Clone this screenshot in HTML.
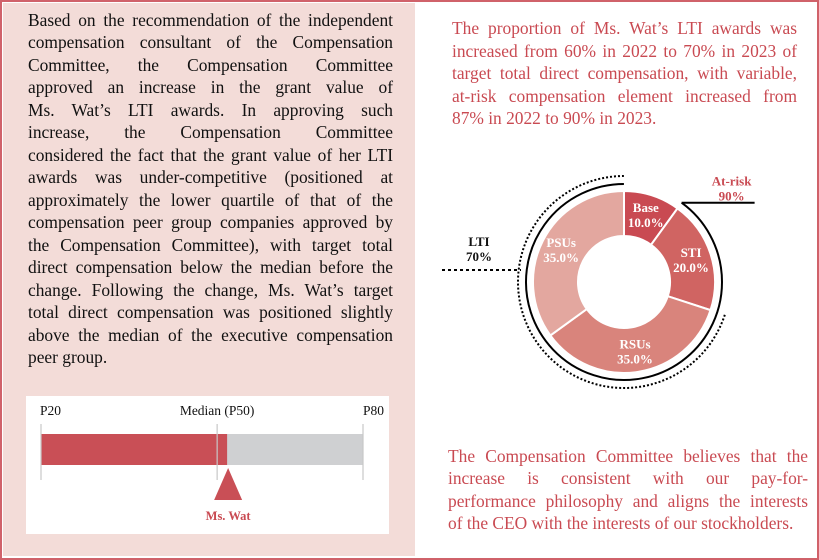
<!DOCTYPE html>
<html><head><meta charset="utf-8">
<style>
body{margin:0;width:819px;height:560px;overflow:hidden;background:#fff;font-family:"Liberation Serif",serif;}
#frame{position:absolute;left:0;top:0;width:815px;height:556px;border:2px solid #d0626a;}
#left{position:absolute;left:3px;top:3px;width:412px;height:553px;background:#f3dcd8;}
.ln{position:absolute;white-space:nowrap;text-align:justify;text-align-last:justify;font-size:17.4px;line-height:20px;}
.ln.last{text-align-last:left;}
.lt .ln{left:28px;width:365px;color:#111;}
.rt .ln{left:452px;width:345px;color:#c94a52;}
.rb .ln{left:448px;width:360px;color:#c94a52;}
#barbox{position:absolute;left:26px;top:396px;width:363px;height:138px;background:#fff;}
svg{position:absolute;left:0;top:0;}
</style></head><body>
<div id="frame"></div>
<div id="left"></div>
<div class="lt">
<div class="ln" style="top:10px">Based on the recommendation of the independent</div>
<div class="ln" style="top:32px">compensation consultant of the Compensation</div>
<div class="ln" style="top:55px">Committee, the Compensation Committee</div>
<div class="ln" style="top:77px">approved an increase in the grant value of</div>
<div class="ln" style="top:100px">Ms. Wat’s LTI awards. In approving such</div>
<div class="ln" style="top:122px">increase, the Compensation Committee</div>
<div class="ln" style="top:145px">considered the fact that the grant value of her LTI</div>
<div class="ln" style="top:167px">awards was under-competitive (positioned at</div>
<div class="ln" style="top:190px">approximately the lower quartile of that of the</div>
<div class="ln" style="top:212px">compensation peer group companies approved by</div>
<div class="ln" style="top:235px">the Compensation Committee), with target total</div>
<div class="ln" style="top:257px">direct compensation below the median before the</div>
<div class="ln" style="top:280px">change. Following the change, Ms. Wat’s target</div>
<div class="ln" style="top:302px">total direct compensation was positioned slightly</div>
<div class="ln" style="top:325px">above the median of the executive compensation</div>
<div class="ln last" style="top:347px">peer group.</div>
</div>
<div class="rt">
<div class="ln" style="top:18px">The proportion of Ms. Wat’s LTI awards was</div>
<div class="ln" style="top:41px">increased from 60% in 2022 to 70% in 2023 of</div>
<div class="ln" style="top:63px">target total direct compensation, with variable,</div>
<div class="ln" style="top:86px">at-risk compensation element increased from</div>
<div class="ln last" style="top:108px">87% in 2022 to 90% in 2023.</div>
</div>
<div class="rb">
<div class="ln" style="top:446px">The Compensation Committee believes that the</div>
<div class="ln" style="top:468px">increase is consistent with our pay-for-</div>
<div class="ln" style="top:491px">performance philosophy and aligns the interests</div>
<div class="ln last" style="top:513px">of the CEO with the interests of our stockholders.</div>
</div>
<div id="barbox"></div>
<svg id="chart" width="819" height="560"></svg>
<script>
const sliceLabels=["Base","STI","RSUs","PSUs"];
const sliceValues=[10,20,35,35];
const sliceColors=["#c94a52","#d06462","#d9847c","#e3a79f"];
const atRiskValue=90;
const ltiValue=70;
const tickLabels=["P20","Median (P50)","P80"];
const tickValues=[0,54.7,100];
const watValue=57.8;

const NS="http://www.w3.org/2000/svg";
const svg=document.getElementById('chart');
function mk(t,a,p){const e=document.createElementNS(NS,t);for(const k in a)e.setAttribute(k,a[k]);(p||svg).appendChild(e);return e;}
const cx=624,cy=282,ro=91,ri=46;
const total=sliceValues.reduce((a,b)=>a+b,0);
function ang(v){return v/total*2*Math.PI;}
function pt(a,r){return [cx+r*Math.sin(a),cy-r*Math.cos(a)];}
function arcPath(a0,a1,r){const p0=pt(a0,r),p1=pt(a1,r);const lg=(a1-a0)>Math.PI?1:0;return `M${p0[0]},${p0[1]} A${r},${r} 0 ${lg} 1 ${p1[0]},${p1[1]}`;}
let acc=0;
sliceValues.forEach((v,i)=>{
  const a0=ang(acc),a1=ang(acc+v);acc+=v;
  const o0=pt(a0,ro),o1=pt(a1,ro),i1=pt(a1,ri),i0=pt(a0,ri);const lg=(a1-a0)>Math.PI?1:0;
  const s=mk('path',{d:`M${o0[0]},${o0[1]} A${ro},${ro} 0 ${lg} 1 ${o1[0]},${o1[1]} L${i1[0]},${i1[1]} A${ri},${ri} 0 ${lg} 0 ${i0[0]},${i0[1]} Z`,fill:sliceColors[i],stroke:'#fff','stroke-width':2});
  
  
  const m=(a0+a1)/2,lp=pt(m,(ro+ri)/2+2);
  const t=mk('text',{x:lp[0],y:lp[1]-3,'text-anchor':'middle',fill:'#fff','font-size':13,'font-weight':'bold','font-family':'Liberation Serif, serif'});
  
  
  mk('tspan',{x:lp[0],dy:0},t).textContent=sliceLabels[i];
  mk('tspan',{x:lp[0],dy:15},t).textContent=v.toFixed(1)+'%';
});
const arA0=ang(total-atRiskValue/100*total);
const ar=mk('path',{d:arcPath(arA0,2*Math.PI-0.001,98),fill:'none',stroke:'#000','stroke-width':2});


const ap=pt(arA0,98);
const al=mk('line',{x1:ap[0],y1:ap[1],x2:ap[0]+73,y2:ap[1],stroke:'#000','stroke-width':2});


const at=mk('text',{x:ap[0]+50,y:ap[1]-17,'text-anchor':'middle',fill:'#c94a52','font-size':13,'font-weight':'bold','font-family':'Liberation Serif, serif'});


mk('tspan',{x:ap[0]+50,dy:0},at).textContent='At-risk';
mk('tspan',{x:ap[0]+50,dy:15},at).textContent=atRiskValue+'%';
const ltA0=ang(total-ltiValue/100*total);
const la=mk('path',{d:arcPath(ltA0,2*Math.PI-0.001,106),fill:'none',stroke:'#000','stroke-width':2,'stroke-dasharray':'2,2'});


const ll=mk('line',{x1:442,y1:270,x2:cx-106+3,y2:270,stroke:'#000','stroke-width':2,'stroke-dasharray':'3,3'});


const lt=mk('text',{x:479,y:246,'text-anchor':'middle',fill:'#111','font-size':13,'font-weight':'bold','font-family':'Liberation Serif, serif'});


mk('tspan',{x:479,dy:0},lt).textContent='LTI';
mk('tspan',{x:479,dy:15},lt).textContent=ltiValue+'%';
const x0=41,x1=363;
function xs(v){return x0+(v-tickValues[0])/(tickValues[2]-tickValues[0])*(x1-x0);}
const bg=mk('rect',{x:x0,y:434,width:x1-x0,height:31,fill:'#cfd0d2'});


const fg=mk('rect',{x:x0,y:434,width:xs(watValue)-x0,height:31,fill:'#c94f56'});


tickValues.forEach((v,i)=>{
  const tl=mk('line',{x1:xs(v),y1:424,x2:xs(v),y2:480,stroke:'#c8c8c8','stroke-width':1.2});
  
  
  const anc=i===0?'start':(i===2?'end':'middle');
  const tx=mk('text',{x:i===0?xs(v)-1:(i===2?xs(v)+21:xs(v)),y:415,'text-anchor':anc,fill:'#111','font-size':13.5,'font-family':'Liberation Serif, serif'});
  
  
  tx.textContent=tickLabels[i];
});
const wx=xs(watValue)+1;
const tri=mk('polygon',{points:`${wx},468 ${wx-14},500 ${wx+14},500`,fill:'#c94f56'});


const wt=mk('text',{x:wx,y:520,'text-anchor':'middle',fill:'#c94a52','font-size':12.5,'font-weight':'bold','font-family':'Liberation Serif, serif'});


wt.textContent='Ms. Wat';
</script>
</body></html>
